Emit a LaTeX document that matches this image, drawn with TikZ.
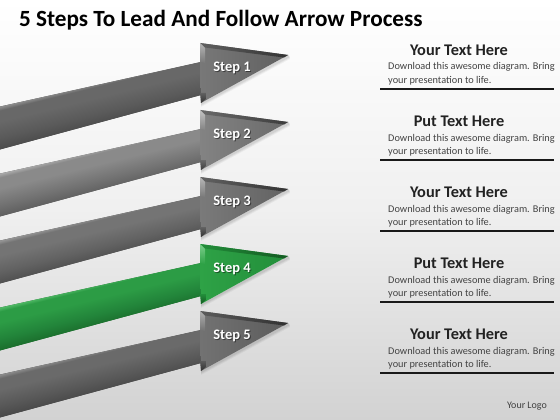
\documentclass[tikz,border=0pt]{standalone}
\usepackage{fontspec}
\setmainfont{Carlito}
\usetikzlibrary{calc}

% arrow colours: D dark, M mid, F face, L light, HL head light, HD head dark, B bevel, E edge light
\definecolor{aD}{HTML}{4A4A4A}\definecolor{aM}{HTML}{5A5A5A}\definecolor{aF}{HTML}{686868}\definecolor{aL}{HTML}{8C8C8C}
\definecolor{aHL}{HTML}{787878}\definecolor{aHD}{HTML}{606060}\definecolor{aB}{HTML}{333333}\definecolor{aE}{HTML}{B5B5B5}
\definecolor{bD}{HTML}{5C5C5C}\definecolor{bM}{HTML}{727272}\definecolor{bF}{HTML}{8A8A8A}\definecolor{bL}{HTML}{A8A8A8}
\definecolor{bHL}{HTML}{838383}\definecolor{bHD}{HTML}{6A6A6A}\definecolor{bB}{HTML}{3C3C3C}\definecolor{bE}{HTML}{C4C4C4}
\definecolor{cD}{HTML}{4E4E4E}\definecolor{cM}{HTML}{626262}\definecolor{cF}{HTML}{747474}\definecolor{cL}{HTML}{949494}
\definecolor{cHL}{HTML}{7A7A7A}\definecolor{cHD}{HTML}{626262}\definecolor{cB}{HTML}{333333}\definecolor{cE}{HTML}{B8B8B8}
\definecolor{dD}{HTML}{1A6A2A}\definecolor{dM}{HTML}{22843A}\definecolor{dF}{HTML}{2C9C45}\definecolor{dL}{HTML}{4FB865}
\definecolor{dHL}{HTML}{2EA246}\definecolor{dHD}{HTML}{228E3A}\definecolor{dB}{HTML}{145A22}\definecolor{dE}{HTML}{7CCF8C}
\definecolor{eD}{HTML}{474747}\definecolor{eM}{HTML}{585858}\definecolor{eF}{HTML}{6A6A6A}\definecolor{eL}{HTML}{8A8A8A}
\definecolor{eHL}{HTML}{727272}\definecolor{eHD}{HTML}{5C5C5C}\definecolor{eB}{HTML}{303030}\definecolor{eE}{HTML}{B0B0B0}
\definecolor{bgbottom}{HTML}{D2D2D2}
\definecolor{txt}{HTML}{222222}

\newcommand\declshaft[1]{%
  \pgfdeclareverticalshading{shaft#1}{100bp}{color(0bp)=(#1D); color(25bp)=(#1D); color(40bp)=(#1M); color(58bp)=(#1F); color(70bp)=(#1F); color(74bp)=(#1L); color(100bp)=(#1L)}}
\declshaft{a}\declshaft{b}\declshaft{c}\declshaft{d}\declshaft{e}

\tikzset{
  steplabel/.style={font=\bfseries\fontsize{14.5}{16}\selectfont, text=white, inner sep=0pt},
  steplabelshadow/.style={font=\bfseries\fontsize{14.5}{16}\selectfont, text=black, opacity=0.45, inner sep=0pt},
  heading/.style={font=\bfseries\fontsize{16.3}{18}\selectfont, text=txt, inner sep=0pt, anchor=base},
  bodytext/.style={font=\fontsize{10.3}{12}\selectfont, text=txt!85!white, inner sep=0pt, anchor=base west},
  rulestyle/.style={line width=1.4pt, draw=black!90},
}

% #1 prefix colour letter, #2 dy, #3 label, #4 node name
\newcommand\steparrow[4]{%
  \pgfmathsetmacro\dy{#2}%
  % soft shadow under the head
  \foreach \o/\op in {4/0.04,3/0.05,2/0.06}{
    \fill[black,opacity=\op] (201,{103+\dy+\o}) -- (290,{55+\dy+\o}) -- (288,{55+\dy}) -- (201,{103+\dy}) -- cycle;
  }
  \begin{scope}
    \clip (-2,{107+\dy}) -- (201,{62+\dy}) -- (201,{95+\dy}) -- (-2,{150+\dy}) -- cycle;
    \fill[#1D] (-2,{55+\dy}) rectangle (205,{155+\dy});
    \begin{scope}[transform canvas={rotate around={13.8:(100,{104+\dy})}}]
      \shade[shading=shaft#1] (-80,{82+\dy}) rectangle (280,{126+\dy});
    \end{scope}
  \end{scope}
  % head face
  \shade[left color=#1HL, right color=#1HD] (200,{43+\dy}) -- (288,{55+\dy}) -- (201,{103+\dy}) -- cycle;
  % top bevel
  \shade[left color=#1HD, right color=#1B] (200,{43+\dy}) -- (288,{55+\dy}) -- (284,{57.5+\dy}) -- (205,{47.5+\dy}) -- cycle;
  % left highlight above the shaft
  \shade[top color=#1E, bottom color=#1HL] (200,{43+\dy}) -- (205,{48+\dy}) -- (205,{63+\dy}) -- (200,{62+\dy}) -- cycle;
  % dark strip below the shaft
  \shade[top color=#1HD, bottom color=#1B] (200,{93+\dy}) -- (206,{93+\dy}) -- (206,{99+\dy}) -- (201,{103+\dy}) -- cycle;
  \node[steplabelshadow] (#4sh) at (233,{69+\dy}) {#3};
  \node[steplabel] (#4) at (232,{68+\dy}) {#3};
}

\begin{document}
\begin{tikzpicture}[x=1pt,y=-1pt]
  \useasboundingbox (0,0) rectangle (560,420);
  \clip (0,0) rectangle (560,420);
  \shade[top color=white, bottom color=bgbottom, middle color=black!6] (0,0) rectangle (560,420);

  \node[font=\bfseries\fontsize{23.2}{26}\selectfont, text=black, inner sep=0pt, anchor=base west] (title) at (19,27) {5 Steps To Lead And Follow Arrow Process};

  \steparrow{a}{0}{Step 1}{s1}
  \steparrow{b}{67}{Step 2}{s2}
  \steparrow{c}{134}{Step 3}{s3}
  \steparrow{d}{201}{Step 4}{s4}
  \steparrow{e}{268}{Step 5}{s5}

  \foreach \k/\h in {0/Your Text Here,1/Put Text Here,2/Your Text Here,3/Put Text Here,4/Your Text Here}{
    \pgfmathsetmacro\yy{71*\k}
    \node[heading] (h\k) at (459,{55.7+\yy}) {\h};
    \node[bodytext] (ba\k) at (388,{70+\yy}) {Download this awesome diagram. Bring};
    \node[bodytext] (bb\k) at (388,{83.5+\yy}) {your presentation to life.};
    \coordinate (rl\k) at (380,{89+\yy});
    \coordinate (rr\k) at (554,{89+\yy});
    \draw[rulestyle] (rl\k) -- (rr\k);
  }

  \node[font=\fontsize{10}{12}\selectfont, text=black!75, inner sep=0pt] (logo) at (527,406) {Your Logo};
\end{tikzpicture}
\end{document}
